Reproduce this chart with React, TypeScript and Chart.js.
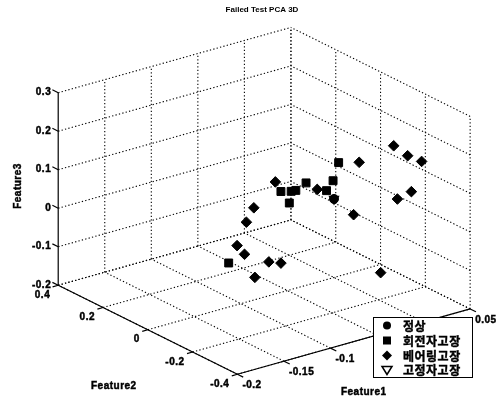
import React, { useEffect, useRef } from 'react';
import { Chart, registerables } from 'chart.js';

Chart.register(...registerables);

// ---------- text ----------
const TITLE = 'Failed Test PCA 3D';
const AXIS_LABELS = ['Feature1', 'Feature2', 'Feature3'];
const CLASS_NAMES = ['정상', '회전자고장', '베어링고장', '고정자고장'];

// ---------- ticks ----------
const F1_TICKS = [-0.2, -0.15, -0.1, -0.05, 0, 0.05];
const F1_TICK_LABELS = ['-0.2', '-0.15', '-0.1', '-0.05', '0', '0.05'];
const F2_TICKS = [-0.4, -0.2, 0, 0.2, 0.4];
const F2_TICK_LABELS = ['-0.4', '-0.2', '0', '0.2', '0.4'];
const F3_TICKS = [-0.2, -0.1, 0, 0.1, 0.2, 0.3];
const F3_TICK_LABELS = ['-0.2', '-0.1', '0', '0.1', '0.2', '0.3'];

// ---------- data (Feature1, Feature2, Feature3) ----------
const normalF1 = [0.0];
const normalF2 = [0.0];
const normalF3 = [0.004];

const rotorF1 = [-0.057, -0.046, -0.041, -0.048, -0.03, 0.005, -0.001, -0.008, -0.065];
const rotorF2 = [0, 0, 0, 0, 0, 0, 0, 0, 0.2];
const rotorF3 = [0.062, 0.055, 0.054, 0.026, 0.066, 0.095, 0.052, 0.031, -0.176];

const bearingF1 = [0.016, 0.031, 0.046, 0.035, 0.02, 0.002, 0.003, -0.003, -0.063, -0.018, -0.07, -0.057, -0.085, -0.038, -0.046, -0.056, -0.048];
const bearingF2 = [-0.2, -0.2, -0.2, -0.2, -0.2, -0.2, -0.1, -0.1, 0, 0, 0, 0, 0, 0.2, 0.2, 0.2, 0.2];
const bearingF3 = [0.189, 0.153, 0.128, 0.057, 0.048, -0.131, 0.126, -0.006, 0.091, 0.041, -0.112, -0.124, -0.142, -0.051, -0.083, -0.137, -0.165];

const statorF1 = [0.0];
const statorF2 = [0.0];
const statorF3 = [0.004];

// ---------- 3D view (layout) ----------
const W = 504;
const H = 406;
const X1MIN = -0.2, X1MAX = 0.05;
const X2MIN = -0.4, X2MAX = 0.4;
const X3MIN = -0.2, X3MAX = 0.3;
const ORIGIN = { x: 237, y: 380 };
const U1 = { x: 956, y: -270 };
const U2 = { x: -230, y: -115 };
const U3 = { x: 0, y: -398 };

function proj(a: number, b: number, c: number) {
  const da = a - X1MIN, db = b - X2MIN, dc = c - X3MIN;
  return {
    x: ORIGIN.x + da * U1.x + db * U2.x + dc * U3.x,
    y: ORIGIN.y + da * U1.y + db * U2.y + dc * U3.y,
  };
}

function points(f1: number[], f2: number[], f3: number[]) {
  return f1.map((v, i) => proj(v, f2[i], f3[i]));
}

type P3 = [number, number, number];

function lineDs(p: P3, q: P3, dotted: boolean) {
  return {
    type: 'scatter' as const,
    data: [proj(...p), proj(...q)],
    showLine: true,
    pointRadius: 0,
    borderColor: '#000',
    borderWidth: dotted ? 1.1 : 1.2,
    borderDash: dotted ? [1.3, 2.2] : [],
    order: dotted ? 3 : 2,
  };
}

function buildLines() {
  const ds: any[] = [];
  // back-left wall (Feature2 = max)
  F1_TICKS.forEach((v) => { if (v !== X1MIN) ds.push(lineDs([v, X2MAX, X3MIN], [v, X2MAX, X3MAX], true)); });
  F3_TICKS.forEach((v) => ds.push(lineDs([X1MIN, X2MAX, v], [X1MAX, X2MAX, v], true)));
  // back-right wall (Feature1 = max)
  F2_TICKS.forEach((v) => ds.push(lineDs([X1MAX, v, X3MIN], [X1MAX, v, X3MAX], true)));
  F3_TICKS.forEach((v) => ds.push(lineDs([X1MAX, X2MIN, v], [X1MAX, X2MAX, v], true)));
  // floor
  F1_TICKS.forEach((v) => ds.push(lineDs([v, X2MIN, X3MIN], [v, X2MAX, X3MIN], true)));
  F2_TICKS.forEach((v) => ds.push(lineDs([X1MIN, v, X3MIN], [X1MAX, v, X3MIN], true)));
  // axes
  ds.push(lineDs([X1MIN, X2MAX, X3MIN], [X1MIN, X2MAX, X3MAX], false));
  ds.push(lineDs([X1MIN, X2MIN, X3MIN], [X1MIN, X2MAX, X3MIN], false));
  ds.push(lineDs([X1MIN, X2MIN, X3MIN], [X1MAX, X2MIN, X3MIN], false));
  // tick marks
  F3_TICKS.forEach((v) => ds.push(lineDs([X1MIN, X2MAX, v], [X1MIN, X2MAX + 0.026, v], false)));
  F2_TICKS.forEach((v) => ds.push(lineDs([X1MIN, v, X3MIN], [X1MIN - 0.006, v, X3MIN], false)));
  F1_TICKS.forEach((v) => ds.push(lineDs([v, X2MIN, X3MIN], [v, X2MIN - 0.026, X3MIN], false)));
  return ds;
}

const FONT_TICK = 'bold 10px "Liberation Sans", Arial, sans-serif';
const FONT_CJK = 'bold 12px "Noto Sans CJK KR", sans-serif';

function boldText(ctx: CanvasRenderingContext2D, s: string, x: number, y: number) {
  ctx.fillText(s, x, y);
  ctx.strokeText(s, x, y);
}

const textPlugin = {
  id: 'text3d',
  afterDraw(chart: any) {
    const ctx = chart.ctx as CanvasRenderingContext2D;
    const sx = chart.scales.x, sy = chart.scales.y;
    const px = (p: { x: number; y: number }) => ({ x: sx.getPixelForValue(p.x), y: sy.getPixelForValue(p.y) });
    ctx.save();
    ctx.fillStyle = '#000';
    ctx.strokeStyle = '#000';
    ctx.lineWidth = 0.45;
    (ctx as any).letterSpacing = '0.5px';
    ctx.font = FONT_TICK;
    ctx.textBaseline = 'middle';
    // Feature3 tick labels
    ctx.textAlign = 'right';
    F3_TICKS.forEach((v, i) => {
      const p = px(proj(X1MIN, X2MAX, v));
      boldText(ctx, F3_TICK_LABELS[i], p.x - 7, p.y);
    });
    // Feature2 tick labels
    F2_TICKS.forEach((v, i) => {
      const p = px(proj(X1MIN, v, X3MIN));
      boldText(ctx, F2_TICK_LABELS[i], p.x - 8, p.y + 10);
    });
    // Feature1 tick labels
    ctx.textAlign = 'left';
    F1_TICKS.forEach((v, i) => {
      const p = px(proj(v, X2MIN, X3MIN));
      boldText(ctx, F1_TICK_LABELS[i], p.x + 5, p.y + 11);
    });
    // axis labels
    ctx.textAlign = 'center';
    const m1 = px(proj((X1MIN + X1MAX) / 2, X2MIN, X3MIN));
    boldText(ctx, AXIS_LABELS[0], m1.x + 10, m1.y + 51);
    const m2 = px(proj(X1MIN, (X2MIN + X2MAX) / 2, X3MIN));
    boldText(ctx, AXIS_LABELS[1], m2.x - 34, m2.y + 57);
    const m3 = px(proj(X1MIN, X2MAX, (X3MIN + X3MAX) / 2));
    ctx.save();
    ctx.translate(m3.x - 40, m3.y - 3);
    ctx.rotate(-Math.PI / 2);
    boldText(ctx, AXIS_LABELS[2], 0, 0);
    ctx.restore();
    // title
    (ctx as any).letterSpacing = '0px';
    ctx.font = 'bold 8px "Liberation Sans", Arial, sans-serif';
    ctx.fillText(TITLE, 262, 10);

    // legend
    const lx = 373, ly = 317, lw = 99, lh = 60;
    ctx.fillStyle = '#fff';
    ctx.fillRect(lx, ly, lw, lh);
    ctx.lineWidth = 1;
    ctx.strokeRect(lx + 0.5, ly + 0.5, lw, lh);
    ctx.fillStyle = '#000';
    ctx.font = FONT_CJK;
    ctx.textAlign = 'left';
    (ctx as any).letterSpacing = '0.5px';
    const rows = [325.5, 340.5, 355.5, 370];
    const mx = 387;
    rows.forEach((ry, i) => {
      ctx.beginPath();
      if (i === 0) {
        ctx.arc(mx, ry, 4, 0, Math.PI * 2);
        ctx.fill();
      } else if (i === 1) {
        ctx.fillRect(mx - 4, ry - 4, 8, 8);
      } else if (i === 2) {
        ctx.moveTo(mx, ry - 5); ctx.lineTo(mx + 5, ry); ctx.lineTo(mx, ry + 5); ctx.lineTo(mx - 5, ry); ctx.closePath();
        ctx.fill();
      } else {
        ctx.lineWidth = 1.5;
        ctx.moveTo(mx - 5, ry - 3.5); ctx.lineTo(mx + 5, ry - 3.5); ctx.lineTo(mx, ry + 4.5); ctx.closePath();
        ctx.stroke();
      }
      ctx.lineWidth = 0.4;
      boldText(ctx, CLASS_NAMES[i], 403, ry + 0.5);
    });
    ctx.restore();
  },
};

export default function App() {
  const ref = useRef<HTMLCanvasElement | null>(null);
  useEffect(() => {
    document.body.style.margin = '0';
    const canvas = ref.current;
    if (!canvas) return;
    const scatterDs = [
      { label: CLASS_NAMES[0], data: points(normalF1, normalF2, normalF3), pointStyle: 'circle', pointRadius: 4.5, backgroundColor: '#000', borderColor: '#000', borderWidth: 1, order: 1 },
      { label: CLASS_NAMES[1], data: points(rotorF1, rotorF2, rotorF3), pointStyle: 'rect', pointRadius: 5.6, backgroundColor: '#000', borderColor: '#000', borderWidth: 1, order: 1 },
      { label: CLASS_NAMES[2], data: points(bearingF1, bearingF2, bearingF3), pointStyle: 'rectRot', pointRadius: 5.3, backgroundColor: '#000', borderColor: '#000', borderWidth: 1, order: 1 },
      { label: CLASS_NAMES[3], data: points(statorF1, statorF2, statorF3), pointStyle: 'triangle', rotation: 180, pointRadius: 5, backgroundColor: 'rgba(0,0,0,0)', borderColor: '#000', borderWidth: 1.5, order: 0 },
    ];
    const chart = new Chart(canvas, {
      type: 'scatter',
      data: { datasets: [...scatterDs, ...buildLines()] as any },
      options: {
        animation: false,
        responsive: false,
        events: [],
        layout: { padding: 0 },
        plugins: { legend: { display: false }, tooltip: { enabled: false }, title: { display: false } },
        scales: {
          x: { type: 'linear', min: 0, max: W, display: false },
          y: { type: 'linear', min: 0, max: H, reverse: true, display: false },
        },
        elements: { line: { tension: 0 } },
      },
      plugins: [textPlugin],
    });
    return () => chart.destroy();
  }, []);
  return (
    <div style={{ width: W, height: H, background: '#fff' }}>
      <canvas ref={ref} width={W} height={H} style={{ display: 'block' }} />
    </div>
  );
}
